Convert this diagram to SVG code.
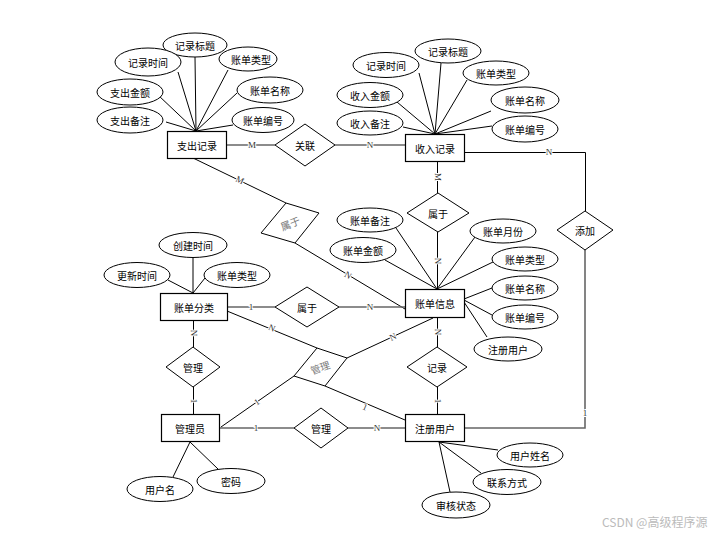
<svg xmlns="http://www.w3.org/2000/svg" width="728" height="534" viewBox="0 0 728 534">
<style>
.ent rect{fill:#fff;stroke:#000;stroke-width:1.2}
.att ellipse{fill:#fff;stroke:#000;stroke-width:1}
.rel polygon{fill:#fff;stroke:#000;stroke-width:1}
text{font-family:"Noto Sans CJK SC","Liberation Sans",sans-serif;font-size:10px;text-anchor:middle;dominant-baseline:central;fill:#000}
.gray{fill:#777}
#connectors line,#connectors polyline{stroke:#000;stroke-width:1;fill:none}
#connectors .thick{stroke:#666;stroke-width:1.6}
.lbl{font-family:"Liberation Serif",serif;font-size:9px;fill:#333;stroke:#fff;stroke-width:2;paint-order:stroke}
.wm{font-family:"Noto Sans CJK SC",sans-serif;font-size:12px;fill:#bbb;text-anchor:start}
</style>
<rect width="728" height="534" fill="#fff"/>
<g id="connectors">
<line x1="196" y1="131" x2="195" y2="57"/>
<line x1="196" y1="131" x2="178" y2="72"/>
<line x1="196" y1="131" x2="228" y2="70"/>
<line x1="196" y1="131" x2="158" y2="95"/>
<line x1="196" y1="131" x2="166" y2="122"/>
<line x1="196" y1="131" x2="237" y2="93"/>
<line x1="196" y1="131" x2="233" y2="125"/>
<line x1="435" y1="134" x2="419" y2="73"/>
<line x1="435" y1="134" x2="441" y2="63"/>
<line x1="435" y1="134" x2="467" y2="80"/>
<line x1="435" y1="134" x2="397" y2="102"/>
<line x1="435" y1="134" x2="403" y2="127"/>
<line x1="435" y1="134" x2="491" y2="111"/>
<line x1="435" y1="134" x2="492" y2="126"/>
<line x1="437" y1="289" x2="396" y2="228"/>
<line x1="437" y1="289" x2="385" y2="260"/>
<line x1="437" y1="289" x2="475" y2="237"/>
<line x1="437" y1="289" x2="493" y2="262"/>
<line x1="464" y1="299" x2="492" y2="288"/>
<line x1="464" y1="300" x2="492" y2="315"/>
<line x1="464" y1="302" x2="487" y2="337"/>
<line x1="193" y1="293" x2="193" y2="258"/>
<line x1="193" y1="293" x2="168" y2="280"/>
<line x1="193" y1="293" x2="205" y2="278"/>
<line x1="190" y1="442" x2="173" y2="477"/>
<line x1="190" y1="442" x2="218" y2="469"/>
<line x1="439" y1="442" x2="498" y2="450"/>
<line x1="439" y1="442" x2="481" y2="473"/>
<line x1="439" y1="442" x2="450" y2="492"/>
<line class="thick" x1="226" y1="145" x2="275" y2="145"/>
<text class="lbl" x="252" y="145">M</text>
<line class="thick" x1="335" y1="145" x2="405" y2="145"/>
<text class="lbl" x="370" y="145">N</text>
<polyline points="464,152.5 585.5,152.5 585.5,211"/>
<text class="lbl" x="549" y="152">N</text>
<polyline class="thick" points="585,250 585,428 464,428"/>
<text class="lbl" x="585" y="413">1</text>
<line x1="437.5" y1="161" x2="437.5" y2="193"/>
<text class="lbl" transform="translate(437.5,177) rotate(90)">M</text>
<line x1="437.5" y1="232" x2="437.5" y2="289"/>
<text class="lbl" transform="translate(437.5,261) rotate(90)">N</text>
<line x1="193" y1="158" x2="286" y2="203"/>
<text class="lbl" transform="translate(240,180) rotate(25.8)">M</text>
<line x1="295" y1="243" x2="405" y2="309"/>
<text class="lbl" transform="translate(348,275) rotate(31)">N</text>
<line class="thick" x1="227" y1="307" x2="275" y2="307"/>
<text class="lbl" x="251" y="307">1</text>
<line class="thick" x1="339" y1="307" x2="405" y2="307"/>
<text class="lbl" x="370" y="307">N</text>
<line x1="227" y1="311" x2="317" y2="348"/>
<text class="lbl" transform="translate(272,328) rotate(22.3)">N</text>
<line x1="347" y1="358" x2="433" y2="318"/>
<text class="lbl" transform="translate(393,337) rotate(-24.9)">N</text>
<line x1="294" y1="376" x2="221" y2="427"/>
<text class="lbl" transform="translate(257,402) rotate(-34.9)">1</text>
<line x1="325" y1="386" x2="405" y2="420"/>
<text class="lbl" transform="translate(365,407) rotate(23)">1</text>
<line x1="193.5" y1="320" x2="193.5" y2="347"/>
<text class="lbl" transform="translate(193.5,333) rotate(90)">N</text>
<line x1="193.5" y1="387" x2="193.5" y2="414"/>
<text class="lbl" transform="translate(193.5,401) rotate(90)">1</text>
<line class="thick" x1="219" y1="428" x2="294" y2="428"/>
<text class="lbl" x="256" y="428">1</text>
<line class="thick" x1="348" y1="428" x2="405" y2="428"/>
<text class="lbl" x="377" y="428">N</text>
<line x1="437.5" y1="317" x2="437.5" y2="347"/>
<text class="lbl" transform="translate(437.5,332) rotate(90)">N</text>
<line x1="437.5" y1="387" x2="437.5" y2="414"/>
<text class="lbl" transform="translate(437.5,401) rotate(90)">1</text>
</g>

<g id="e_zhichu" class="ent"><rect x="167.5" y="131.5" width="59" height="27"/><text x="197" y="145">支出记录</text></g>
<g id="e_shouru" class="ent"><rect x="405.5" y="134.5" width="59" height="27"/><text x="435" y="148">收入记录</text></g>
<g id="e_zhangdan" class="ent"><rect x="405.5" y="289.5" width="59" height="28"/><text x="435" y="303">账单信息</text></g>
<g id="e_fenlei" class="ent"><rect x="160.5" y="293.5" width="67" height="27"/><text x="194" y="307">账单分类</text></g>
<g id="e_admin" class="ent"><rect x="161.5" y="414.5" width="58" height="27"/><text x="190" y="428">管理员</text></g>
<g id="e_user" class="ent"><rect x="405.5" y="414.5" width="59" height="27"/><text x="435" y="428">注册用户</text></g>

<g id="r_guanlian" class="rel"><polygon points="275,145 305,124 335,145 305,166"/><text x="305" y="145">关联</text></g>
<g id="r_shuyu1" class="rel"><polygon points="407,213 438,193 469,213 438,232"/><text x="438" y="213">属于</text></g>
<g id="r_shuyu2" class="rel"><polygon points="286,203 319,213 295,243 261,233"/><text class="gray" transform="translate(290,223) rotate(-22)">属于</text></g>
<g id="r_shuyu3" class="rel"><polygon points="275,307 307,287 339,307 307,327"/><text x="307" y="307">属于</text></g>
<g id="r_tianjia" class="rel"><polygon points="557,230 585,211 613,230 585,250"/><text x="585" y="230">添加</text></g>
<g id="r_guanli1" class="rel"><polygon points="166,367 193,347 220,367 193,387"/><text x="193" y="367">管理</text></g>
<g id="r_guanli2" class="rel"><polygon points="317,348 347,358 325,386 294,376"/><text class="gray" transform="translate(320,367) rotate(-20)">管理</text></g>
<g id="r_guanli3" class="rel"><polygon points="294,428 321,408 348,428 321,448"/><text x="321" y="428">管理</text></g>
<g id="r_jilu" class="rel"><polygon points="407,367 437,347 467,367 437,387"/><text x="437" y="367">记录</text></g>

<g id="a_zc_title" class="att"><ellipse cx="195" cy="45" rx="32" ry="12"/><text x="195" y="45">记录标题</text></g>
<g id="a_zc_time" class="att"><ellipse cx="148" cy="62" rx="33" ry="14"/><text x="148" y="62">记录时间</text></g>
<g id="a_zc_type" class="att"><ellipse cx="248" cy="59" rx="29" ry="12"/><text x="251" y="59">账单类型</text></g>
<g id="a_zc_amount" class="att"><ellipse cx="130" cy="92" rx="33" ry="13"/><text x="130" y="92">支出金额</text></g>
<g id="a_zc_note" class="att"><ellipse cx="130" cy="120" rx="33" ry="13"/><text x="130" y="120">支出备注</text></g>
<g id="a_zc_name" class="att"><ellipse cx="270" cy="90" rx="33" ry="13"/><text x="270" y="90">账单名称</text></g>
<g id="a_zc_no" class="att"><ellipse cx="263" cy="120" rx="31" ry="12.5"/><text x="263" y="120">账单编号</text></g>

<g id="a_sr_time" class="att"><ellipse cx="386" cy="65" rx="33" ry="12.5"/><text x="386" y="65">记录时间</text></g>
<g id="a_sr_title" class="att"><ellipse cx="448" cy="51" rx="33" ry="12"/><text x="448" y="51">记录标题</text></g>
<g id="a_sr_type" class="att"><ellipse cx="496" cy="73" rx="33" ry="12"/><text x="496" y="73">账单类型</text></g>
<g id="a_sr_amount" class="att"><ellipse cx="370" cy="95" rx="33" ry="12.5"/><text x="370" y="95">收入金额</text></g>
<g id="a_sr_note" class="att"><ellipse cx="370" cy="123" rx="33" ry="12"/><text x="370" y="123">收入备注</text></g>
<g id="a_sr_name" class="att"><ellipse cx="525" cy="100" rx="34" ry="13"/><text x="525" y="100">账单名称</text></g>
<g id="a_sr_no" class="att"><ellipse cx="525" cy="129" rx="33" ry="13"/><text x="525" y="129">账单编号</text></g>

<g id="a_zd_note" class="att"><ellipse cx="370" cy="220" rx="33" ry="12"/><text x="370" y="220">账单备注</text></g>
<g id="a_zd_amount" class="att"><ellipse cx="363" cy="250" rx="33" ry="12.5"/><text x="363" y="250">账单金额</text></g>
<g id="a_zd_month" class="att"><ellipse cx="503" cy="231" rx="33" ry="12"/><text x="503" y="231">账单月份</text></g>
<g id="a_zd_type" class="att"><ellipse cx="525" cy="259" rx="33" ry="12"/><text x="525" y="259">账单类型</text></g>
<g id="a_zd_name" class="att"><ellipse cx="525" cy="288" rx="33" ry="12"/><text x="525" y="288">账单名称</text></g>
<g id="a_zd_no" class="att"><ellipse cx="525" cy="317" rx="33" ry="12"/><text x="525" y="317">账单编号</text></g>
<g id="a_zd_user" class="att"><ellipse cx="508" cy="349" rx="34" ry="12"/><text x="508" y="349">注册用户</text></g>

<g id="a_fl_create" class="att"><ellipse cx="193" cy="245" rx="34" ry="12.5"/><text x="193" y="245">创建时间</text></g>
<g id="a_fl_update" class="att"><ellipse cx="137" cy="275" rx="33" ry="12.5"/><text x="137" y="275">更新时间</text></g>
<g id="a_fl_type" class="att"><ellipse cx="237" cy="275" rx="33" ry="12.5"/><text x="237" y="275">账单类型</text></g>

<g id="a_ad_user" class="att"><ellipse cx="160" cy="489" rx="33" ry="12.5"/><text x="160" y="489">用户名</text></g>
<g id="a_ad_pwd" class="att"><ellipse cx="231" cy="481" rx="34" ry="12.5"/><text x="231" y="481">密码</text></g>

<g id="a_us_name" class="att"><ellipse cx="530" cy="455" rx="33" ry="12"/><text x="530" y="455">用户姓名</text></g>
<g id="a_us_contact" class="att"><ellipse cx="507" cy="482" rx="34" ry="12.5"/><text x="507" y="482">联系方式</text></g>
<g id="a_us_status" class="att"><ellipse cx="456" cy="505" rx="34" ry="13"/><text x="456" y="505">审核状态</text></g>

<text class="wm" x="602" y="521">CSDN @高级程序源</text>
</svg>
